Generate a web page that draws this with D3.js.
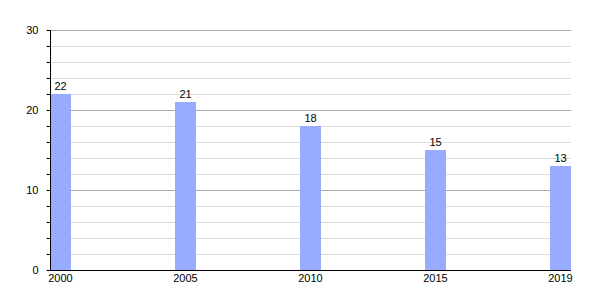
<!DOCTYPE html>
<html>
<head>
<meta charset="utf-8">
<script src="https://cdn.jsdelivr.net/npm/d3@7"></script>
<style>
  body { margin: 0; background: #fff; }
  text { font-family: "Liberation Sans", Arial, sans-serif; font-size: 11px; fill: #000; }
</style>
</head>
<body>
<svg id="chart" width="600" height="300"></svg>
<script>
// data
const years = ["2000", "2005", "2010", "2015", "2019"];
const values = [22, 21, 18, 15, 13];
const majorTicks = [0, 10, 20, 30];
const minorTicks = d3.range(0, 31, 2);

// plot box (can't call it "top", window.top exists)
const plotL = 50, plotR = 571, plotT = 30, plotB = 270;
const barW = 21;

let svg = d3.select("#chart");

const x = d3.scalePoint()
  .domain(years)
  .range([plotL, plotR - barW]);

const y = d3.scaleLinear()
  .domain([0, 30])
  .range([plotB, plotT]);

// minor grid
svg.append("g").selectAll("line")
  .data(minorTicks.filter(d => d % 10 !== 0))
  .enter().append("line")
  .attr("x1", plotL).attr("x2", plotR)
  .attr("y1", d => y(d) + 0.5).attr("y2", d => y(d) + 0.5)
  .attr("stroke", "#dcdcdc");

// major grid
svg.append("g").selectAll("line")
  .data(majorTicks.filter(d => d > 0))
  .enter().append("line")
  .attr("x1", plotL).attr("x2", plotR)
  .attr("y1", d => y(d) + 0.5).attr("y2", d => y(d) + 0.5)
  .attr("stroke", "#a8a8a8");

// bars
svg.append("g").selectAll("rect")
  .data(values)
  .enter().append("rect")
  .attr("x", (d, i) => x(years[i]))
  .attr("y", d => y(d))
  .attr("width", barW)
  .attr("height", d => plotB - y(d))
  .attr("fill", "#99abff");

// value labels
svg.append("g").selectAll("text")
  .data(values)
  .enter().append("text")
  .attr("x", (d, i) => x(years[i]) + barW / 2)
  .attr("y", d => y(d) - 4)
  .attr("text-anchor", "middle")
  .text(d => d);

// y axis
let yAxis = svg.append("g")
  .attr("transform", `translate(${plotL + 0.5},0)`)
  .call(d3.axisLeft(y).tickValues(minorTicks).tickSize(4)
    .tickFormat(d => d % 10 === 0 ? d : ""));
yAxis.select(".domain").attr("stroke", "#000").attr("d", `M0,${plotT}V${plotB}`);
yAxis.selectAll(".tick line").attr("stroke", "#000");
yAxis.selectAll(".tick text")
  .attr("x", -12)
  .style("font-family", "Liberation Sans, Arial, sans-serif")
  .style("font-size", "11px")
  .attr("fill", "#000");

// x axis line
svg.append("line")
  .attr("x1", plotL).attr("x2", plotR)
  .attr("y1", plotB + 0.5).attr("y2", plotB + 0.5)
  .attr("stroke", "#000");

// x labels
svg.append("g").selectAll("text")
  .data(years)
  .enter().append("text")
  .attr("x", d => x(d) + barW / 2)
  .attr("y", plotB + 12)
  .attr("text-anchor", "middle")
  .text(d => d);
</script>
</body>
</html>
